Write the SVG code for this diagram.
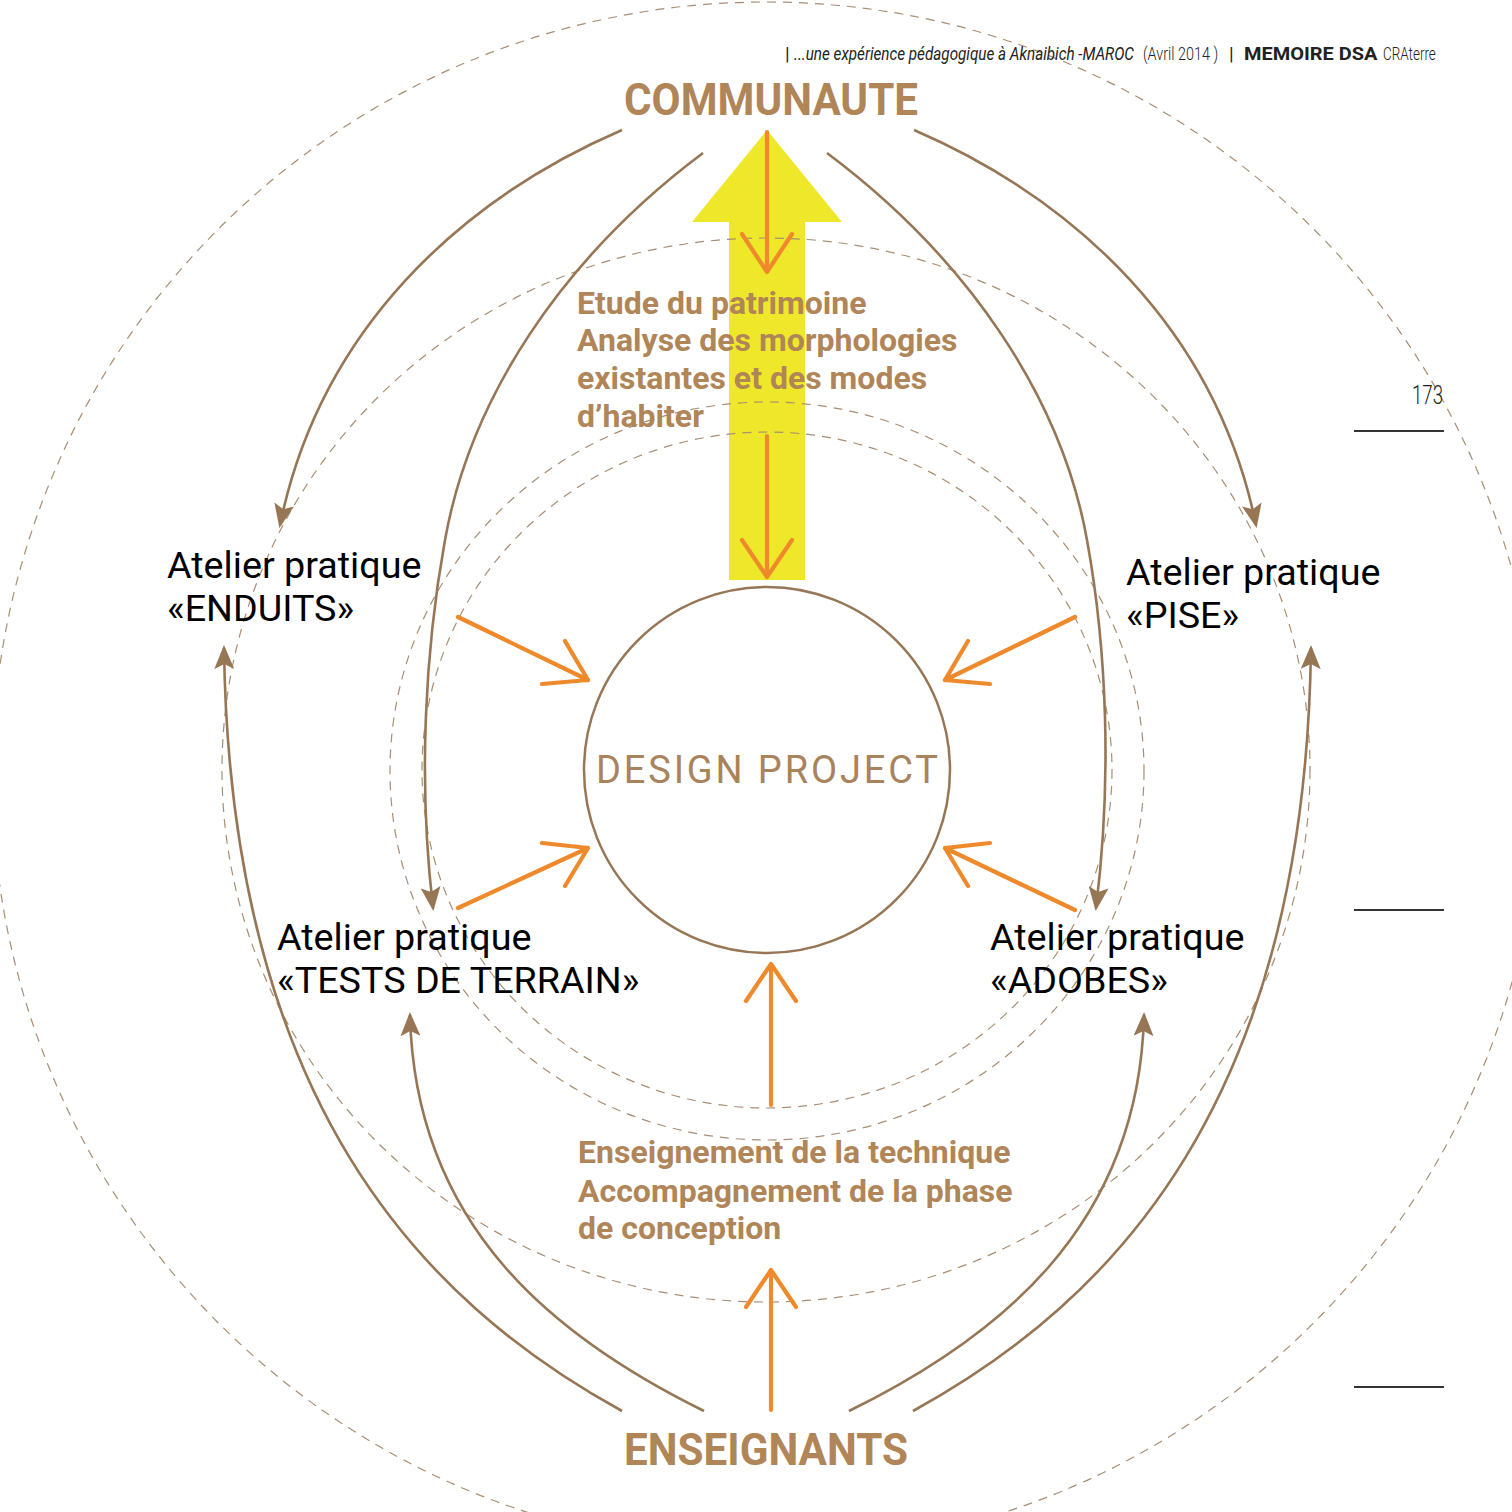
<svg xmlns="http://www.w3.org/2000/svg" width="1512" height="1512" viewBox="0 0 1512 1512">
<defs>
<style>
.dash{fill:none;stroke:#a88e72;stroke-width:1.2;stroke-dasharray:9 7}
.brown{fill:none;stroke:#977655;stroke-width:2.6;marker-end:url(#bh)}
.or{fill:none;stroke:#ef8a2c;stroke-width:4.2;stroke-linecap:round;stroke-linejoin:round}
.big{font-family:Roboto,"Liberation Sans",sans-serif;font-weight:700;fill:#b08558;font-size:44px}
.sub{font-family:Roboto,"Liberation Sans",sans-serif;font-weight:700;fill:#b08558;font-size:32px}
.lab{font-family:Roboto,"Liberation Sans",sans-serif;fill:#000;font-size:37.7px}
.hdr{font-family:Roboto,"Liberation Sans",sans-serif;font-size:19px;fill:#222}
</style>
<marker id="bh" markerUnits="userSpaceOnUse" viewBox="0 0 24 20" refX="21" refY="10" markerWidth="24" markerHeight="20" orient="auto">
<path d="M0,0 L24,10 L0,20 L5,10 z" fill="#977655"/>
</marker>
</defs>
<rect width="1512" height="1512" fill="#fff"/>

<!-- yellow arrow -->
<polygon points="767,130 842,222 805,222 805,580 729,580 729,222 692,222" fill="#efe82a"/>

<!-- dashed rings -->
<g id="rings">
<circle class="dash" cx="766" cy="776" r="774"/>
<ellipse class="dash" cx="766" cy="770" rx="544" ry="532"/>
<ellipse class="dash" cx="767" cy="771" rx="377" ry="369"/>
<ellipse class="dash" cx="767" cy="770" rx="345" ry="338"/>
</g>

<!-- header -->
<g id="header">
<text class="hdr" x="785" y="60">|</text>
<g transform="translate(794,60) scale(0.8,1)"><text class="hdr" x="0" y="0" font-style="italic" textLength="425" lengthAdjust="spacingAndGlyphs">...une expérience pédagogique à Aknaibich -MAROC</text></g>
<g transform="translate(1143,60) scale(0.8,1)"><text class="hdr" x="0" y="0" fill="#777" font-weight="300" textLength="94" lengthAdjust="spacingAndGlyphs">(Avril 2014 )</text></g>
<text class="hdr" x="1229" y="60">|</text>
<g transform="translate(1244,60) scale(0.85,1)"><text class="hdr" x="0" y="0" font-weight="700" fill="#000" textLength="157" lengthAdjust="spacingAndGlyphs">MEMOIRE DSA</text></g>
<g transform="translate(1383,60) scale(0.8,1)"><text class="hdr" x="0" y="0" fill="#777" font-weight="300" textLength="66" lengthAdjust="spacingAndGlyphs">CRAterre</text></g>
<text x="1443" y="404" text-anchor="end" font-family="Roboto,'Liberation Sans',sans-serif" font-size="25" font-weight="300" fill="#222" textLength="31" lengthAdjust="spacingAndGlyphs">173</text>
<line x1="1354" y1="431" x2="1444" y2="431" stroke="#333" stroke-width="2"/>
<line x1="1354" y1="910" x2="1444" y2="910" stroke="#333" stroke-width="2"/>
<line x1="1354" y1="1387" x2="1444" y2="1387" stroke="#333" stroke-width="2"/>
</g>

<!-- nodes -->
<g id="node-communaute"><text class="big" x="624" y="115" textLength="294" lengthAdjust="spacingAndGlyphs">COMMUNAUTE</text></g>
<g id="node-enseignants"><text class="big" x="624" y="1465" textLength="284" lengthAdjust="spacingAndGlyphs">ENSEIGNANTS</text></g>
<g id="node-design">
<circle cx="767" cy="770" r="183" fill="none" stroke="#977655" stroke-width="2.5"/>
<text x="596" y="783" font-family="Roboto,'Liberation Sans',sans-serif" font-size="38" fill="#a8835c" textLength="342" lengthAdjust="spacing">DESIGN PROJECT</text>
</g>
<g id="node-enduits"><text class="lab" x="167" y="578">Atelier pratique</text><text class="lab" x="167" y="621">«ENDUITS»</text></g>
<g id="node-pise"><text class="lab" x="1126" y="585">Atelier pratique</text><text class="lab" x="1126" y="628">«PISE»</text></g>
<g id="node-tests"><text class="lab" x="277" y="950">Atelier pratique</text><text class="lab" x="277" y="993">«TESTS DE TERRAIN»</text></g>
<g id="node-adobes"><text class="lab" x="990" y="950">Atelier pratique</text><text class="lab" x="990" y="993">«ADOBES»</text></g>
<g id="label-etude">
<text class="sub" x="577" y="314">Etude du patrimoine</text>
<text class="sub" x="577" y="351">Analyse des morphologies</text>
<text class="sub" x="577" y="389">existantes et des modes</text>
<text class="sub" x="577" y="427">d’habiter</text>
</g>
<g id="label-enseignement">
<text class="sub" x="578" y="1163">Enseignement de la technique</text>
<text class="sub" x="578" y="1202">Accompagnement de la phase</text>
<text class="sub" x="578" y="1239">de conception</text>
</g>

<!-- connectors -->
<g id="connectors">
<path class="brown" d="M622,130 C460,200 320,330 280,525"/>
<path class="brown" d="M703,153 C560,260 470,400 445,540 C425,650 418,780 433,908"/>
<path class="brown" d="M914,130 C1076,200 1216,330 1256,525"/>
<path class="brown" d="M827,153 C970,260 1062,400 1087,540 C1107,650 1112,780 1096,908"/>
<path class="brown" d="M622,1411 C420,1300 230,1100 224,648"/>
<path class="brown" d="M704,1411 C560,1340 415,1230 410,1015"/>
<path class="brown" d="M849,1411 C993,1340 1139,1230 1144,1015"/>
<path class="brown" d="M913,1411 C1115,1300 1305,1100 1311,648"/>

<path class="or" d="M767,132 L767,272 M742,234 L767,272 L792,234"/>
<path class="or" d="M767,436 L767,577 M742,540 L767,577 L792,540"/>
<path class="or" d="M771,1105 L771,964 M746,1001 L771,964 L796,1001"/>
<path class="or" d="M771,1410 L771,1270 M746,1307 L771,1270 L796,1307"/>
<path class="or" d="M458,617 L588,680 M565,641 L588,680 L542,684"/>
<path class="or" d="M458,908 L588,848 M542,843 L588,848 L565,886"/>
<path class="or" d="M1075,617 L945,680 M968,641 L945,680 L990,684"/>
<path class="or" d="M1075,910 L945,848 M990,843 L945,848 L968,886"/>
</g>
</svg>
